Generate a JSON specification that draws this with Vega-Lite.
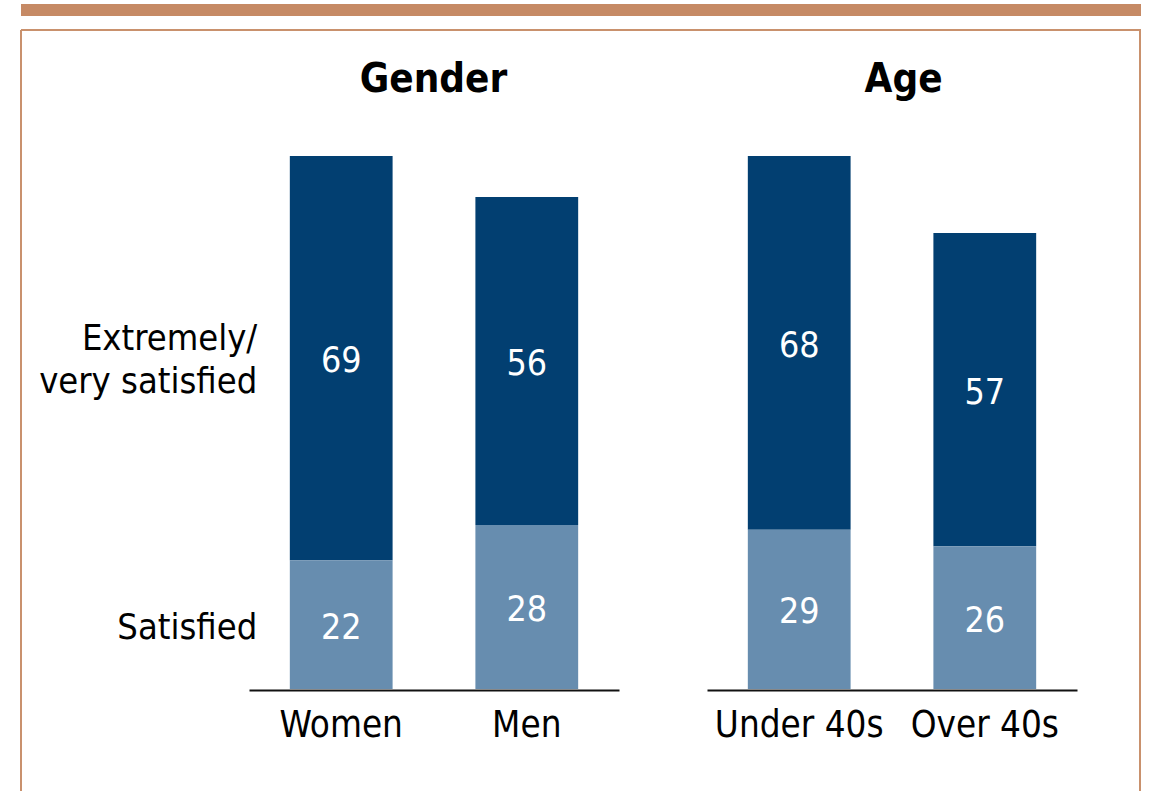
{
  "$schema": "https://vega.github.io/schema/vega-lite/v6.json",
  "autosize": {"type": "pad"},
  "padding": {"left": 20, "top": 4, "right": 0, "bottom": 0},
  "background": "white",
  "spacing": 14,
  "bounds": "flush",
  "config": {
    "font": "DejaVu Sans Condensed, DejaVu Sans",
    "view": {"stroke": null}
  },
  "datasets": {
    "survey": [
      {"group": "Gender", "category": "Women", "level": "Extremely/\nvery satisfied", "value": 69},
      {"group": "Gender", "category": "Women", "level": "Satisfied", "value": 22},
      {"group": "Gender", "category": "Men", "level": "Extremely/\nvery satisfied", "value": 56},
      {"group": "Gender", "category": "Men", "level": "Satisfied", "value": 28},
      {"group": "Age", "category": "Under 40s", "level": "Extremely/\nvery satisfied", "value": 68},
      {"group": "Age", "category": "Under 40s", "level": "Satisfied", "value": 29},
      {"group": "Age", "category": "Over 40s", "level": "Extremely/\nvery satisfied", "value": 57},
      {"group": "Age", "category": "Over 40s", "level": "Satisfied", "value": 26}
    ]
  },
  "vconcat": [
    {
      "width": 1120,
      "height": 12,
      "view": {"fill": "#C68A65", "stroke": null},
      "data": {"values": [{"part": "top band"}]},
      "mark": {"type": "rect", "color": "#C68A65"},
      "encoding": {}
    },
    {
      "width": 1119,
      "height": 761,
      "view": {"stroke": "#C9916D", "strokeWidth": 2, "strokeDash": [1880, 1119, 761, 0]},
      "data": {"name": "survey"},
      "resolve": {
        "scale": {"x": "independent", "y": "independent"},
        "axis": {"x": "independent", "y": "independent"}
      },
      "layer": [
        {
          "transform": [{"filter": "datum.group === 'Gender'"}],
          "encoding": {
            "x": {
              "field": "category",
              "type": "nominal",
              "sort": ["Women", "Men"],
              "scale": {"domain": ["Women", "Men"], "range": [228, 598], "paddingInner": 0.4462, "paddingOuter": 0.22},
              "axis": {
                "orient": "bottom",
                "offset": -101,
                "title": null,
                "ticks": false,
                "tickSize": 0,
                "grid": false,
                "domainColor": "#111111",
                "domainWidth": 2,
                "labelFontSize": 36.5,
                "labelColor": "#000000",
                "labelPadding": 17,
                "labelAngle": 0
              }
            }
          },
          "layer": [
            {
              "mark": {"type": "bar"},
              "encoding": {
                "y": {"field": "value", "type": "quantitative", "stack": "zero", "scale": {"domain": [0, 91], "range": [659, 126], "nice": false, "zero": true}, "axis": null},
                "color": {"field": "level", "type": "nominal", "scale": {"domain": ["Extremely/\nvery satisfied", "Satisfied"], "range": ["#023F71", "#678DAF"]}, "legend": null},
                "order": {"field": "level", "sort": "descending"}
              }
            },
            {
              "mark": {"type": "text", "color": "white", "fontSize": 35.5, "baseline": "middle", "align": "center", "dy": 3},
              "encoding": {
                "y": {"field": "value", "type": "quantitative", "stack": "zero", "bandPosition": 0.5, "scale": {"domain": [0, 91], "range": [659, 126], "nice": false, "zero": true}, "axis": null},
                "detail": {"field": "level"},
                "order": {"field": "level", "sort": "descending"},
                "text": {"field": "value", "type": "quantitative"}
              }
            },
            {
              "transform": [{"filter": "datum.category === 'Women'"}],
              "mark": {"type": "text", "color": "black", "fontSize": 36, "align": "right", "baseline": "middle", "dx": -84, "dy": -19, "lineBreak": "\n", "lineHeight": 43},
              "encoding": {
                "y": {"field": "value", "type": "quantitative", "stack": "zero", "bandPosition": 0.5, "scale": {"domain": [0, 91], "range": [659, 126], "nice": false, "zero": true}, "axis": null},
                "detail": {"field": "level"},
                "order": {"field": "level", "sort": "descending"},
                "text": {"condition": {"test": "datum.level === 'Satisfied'", "value": ""}, "field": "level", "type": "nominal"}
              }
            },
            {
              "transform": [{"filter": "datum.category === 'Women' && datum.level === 'Satisfied'"}],
              "mark": {"type": "text", "color": "black", "fontSize": 36, "align": "right", "baseline": "middle", "dx": -84, "dy": 3},
              "encoding": {
                "y": {"field": "value", "type": "quantitative", "stack": "zero", "bandPosition": 0.5, "scale": {"domain": [0, 91], "range": [659, 126], "nice": false, "zero": true}, "axis": null},
                "detail": {"field": "level"},
                "order": {"field": "level", "sort": "descending"},
                "text": {"field": "level", "type": "nominal"}
              }
            },
            {
              "data": {"values": [{"header": "Gender"}]},
              "mark": {"type": "text", "color": "black", "fontSize": 40, "fontWeight": "bold", "align": "center", "baseline": "alphabetic"},
              "encoding": {
                "x": {"datum": "Men", "bandPosition": -0.408},
                "y": {"datum": 101.93, "type": "quantitative", "scale": {"domain": [0, 91], "range": [659, 126], "nice": false, "zero": true}, "axis": null},
                "text": {"field": "header", "type": "nominal"}
              }
            }
          ]
        },
        {
          "transform": [{"filter": "datum.group === 'Age'"}],
          "encoding": {
            "x": {
              "field": "category",
              "type": "nominal",
              "sort": ["Under 40s", "Over 40s"],
              "scale": {"domain": ["Under 40s", "Over 40s"], "range": [686, 1056], "paddingInner": 0.4462, "paddingOuter": 0.22},
              "axis": {
                "orient": "bottom",
                "offset": -101,
                "title": null,
                "ticks": false,
                "tickSize": 0,
                "grid": false,
                "domainColor": "#111111",
                "domainWidth": 2,
                "labelFontSize": 36.5,
                "labelColor": "#000000",
                "labelPadding": 17,
                "labelAngle": 0
              }
            }
          },
          "layer": [
            {
              "mark": {"type": "bar"},
              "encoding": {
                "y": {"field": "value", "type": "quantitative", "stack": "zero", "scale": {"domain": [0, 97], "range": [659, 126], "nice": false, "zero": true}, "axis": null},
                "color": {"field": "level", "type": "nominal", "scale": {"domain": ["Extremely/\nvery satisfied", "Satisfied"], "range": ["#023F71", "#678DAF"]}, "legend": null},
                "order": {"field": "level", "sort": "descending"}
              }
            },
            {
              "mark": {"type": "text", "color": "white", "fontSize": 35.5, "baseline": "middle", "align": "center", "dy": 3},
              "encoding": {
                "y": {"field": "value", "type": "quantitative", "stack": "zero", "bandPosition": 0.5, "scale": {"domain": [0, 97], "range": [659, 126], "nice": false, "zero": true}, "axis": null},
                "detail": {"field": "level"},
                "order": {"field": "level", "sort": "descending"},
                "text": {"field": "value", "type": "quantitative"}
              }
            },
            {
              "data": {"values": [{"header": "Age"}]},
              "mark": {"type": "text", "color": "black", "fontSize": 40, "fontWeight": "bold", "align": "center", "baseline": "alphabetic"},
              "encoding": {
                "x": {"datum": "Over 40s", "bandPosition": -0.29},
                "y": {"datum": 108.65, "type": "quantitative", "scale": {"domain": [0, 97], "range": [659, 126], "nice": false, "zero": true}, "axis": null},
                "text": {"field": "header", "type": "nominal"}
              }
            }
          ]
        }
      ]
    }
  ]
}
